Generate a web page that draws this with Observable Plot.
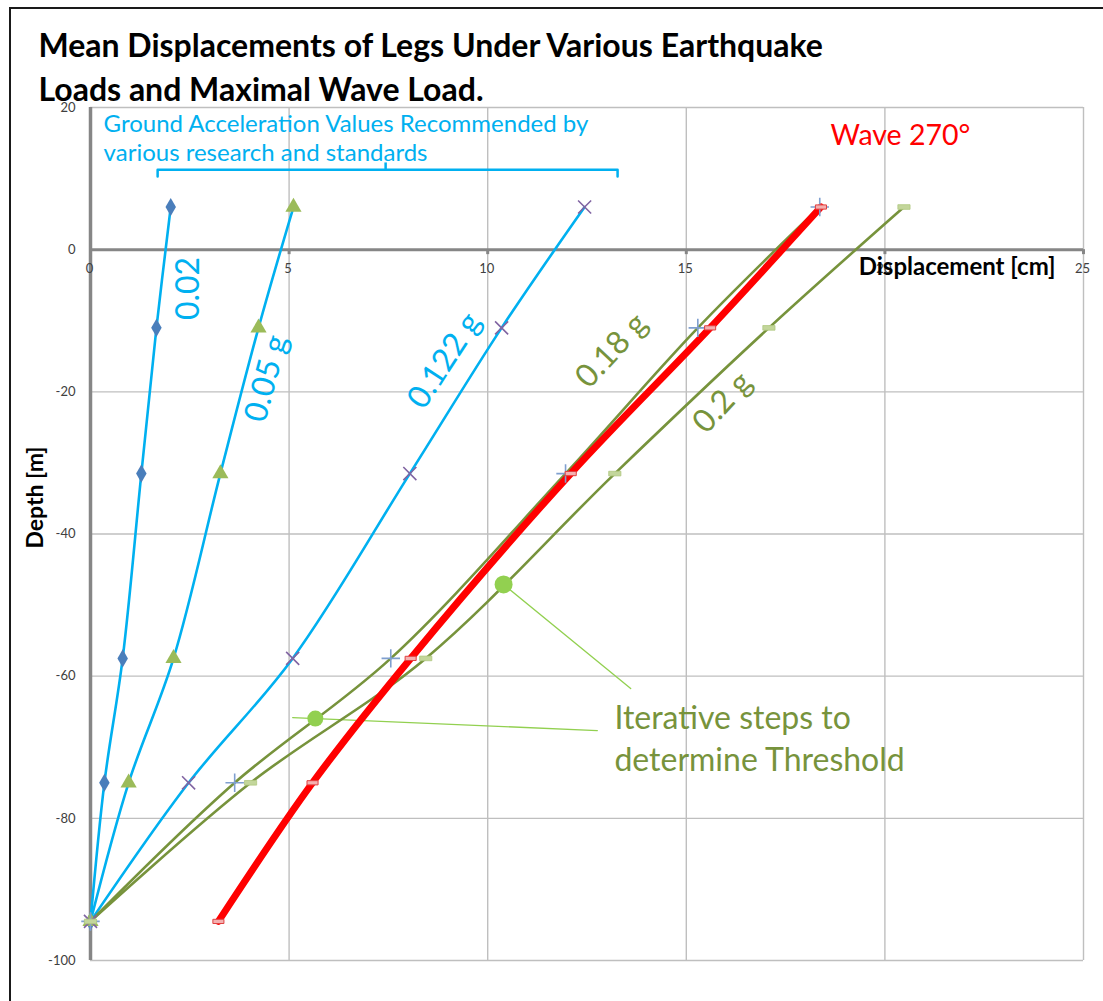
<!DOCTYPE html>
<html>
<head>
<meta charset="utf-8">
<script src="https://cdn.jsdelivr.net/npm/d3@7"></script>
<script src="https://cdn.jsdelivr.net/npm/@observablehq/plot@0.6"></script>
<style>
  html, body { margin: 0; padding: 0; background: #fff; }
  #wrap { position: relative; width: 1103px; height: 1001px; overflow: hidden; }
  #frame { position: absolute; left: 9px; top: 7px; width: 1200px; height: 1100px; border: 2.5px solid #1a1a1a; pointer-events: none; }
</style>
</head>
<body>
<div id="wrap"><div id="frame"></div></div>
<script>
// ---- data ----
const depth = [6, -11, -31.5, -57.5, -75, -94.5];
const g002  = [2.02, 1.66, 1.28, 0.81, 0.35, 0];
const g005  = [5.11, 4.23, 3.27, 2.09, 0.96, 0];
const g0122 = [12.44, 10.35, 8.04, 5.09, 2.47, 0];
const g018  = [18.36, 15.29, 11.96, 7.56, 3.63, 0];
const g02   = [20.48, 17.08, 13.2, 8.44, 4.03, 0];
const wave  = [18.39, 15.6, 12.09, 8.06, 5.59, 3.22];
const xTicks = [0, 5, 10, 15, 20, 25];
const yTicks = [20, 0, -20, -40, -60, -80, -100];
const iterSteps = [[10.40, -47.1], [5.66, -65.96]];

const rows = (vals) => vals.map((v, i) => ({x: v, y: depth[i]}));

const dashSymbol = {draw(ctx, size) { const w = Math.sqrt(size) * 1.25, h = w * 0.38; ctx.moveTo(-w/2, -h/2); ctx.lineTo(w/2, -h/2); ctx.lineTo(w/2, h/2); ctx.lineTo(-w/2, h/2); ctx.closePath(); }};
const ellipseSymbol = {draw(ctx, size) { const rx = Math.sqrt(size) * 0.6, ry = rx * 0.7; ctx.moveTo(rx, 0); ctx.ellipse ? ctx.ellipse(0, 0, rx, ry, 0, 0, 2 * Math.PI) : ctx.arc(0, 0, rx, 0, 2 * Math.PI); }};

const BLUE = "#00b0f0", OLIVE = "#77933c", RED = "#ff0000", LGREEN = "#92d050";
const F = "Lato, 'Open Sans', sans-serif";

const lineOpts = (stroke, w) => ({x: "x", y: "y", stroke, strokeWidth: w, curve: "catmull-rom"});

const txt = (s, x, y, o = {}) => Plot.text([s], {x: () => x, y: () => y, text: d => d, textAnchor: "start", fontFamily: F, ...o});

const chart = Plot.plot({
  width: 1103, height: 1001,
  marginLeft: 90, marginRight: 20, marginTop: 107, marginBottom: 41,
  x: {domain: [0, 25], axis: null},
  y: {domain: [-100, 20], axis: null},
  style: {fontFamily: F, background: "transparent", overflow: "visible"},
  marks: [
    // gridlines
    Plot.ruleX(xTicks.filter(d => d !== 0), {stroke: "#bfbfbf", strokeWidth: 1.4}),
    Plot.ruleY(yTicks.filter(d => d !== 0), {stroke: "#bfbfbf", strokeWidth: 1.4}),
    // axes
    Plot.ruleX([0], {stroke: "#868686", strokeWidth: 3.5}),
    Plot.ruleY([0], {stroke: "#868686", strokeWidth: 3}),
    Plot.ruleX(xTicks, {x: d => d, y1: 0, y2: -0.7, stroke: "#868686", strokeWidth: 3}),
    // tick labels
    Plot.text(yTicks, {x: () => 0, y: d => d, text: d => String(d), textAnchor: "end", dx: -15, fontSize: 13, fill: "#404040"}),
    Plot.text(xTicks, {x: d => d, y: () => 0, text: d => String(d), dy: 19, dx: -1, fontSize: 13, fill: "#404040"}),
    // bracket
    Plot.line([[1.69, 10.3], [1.69, 11.24], [13.27, 11.24], [13.27, 10.3]], {stroke: BLUE, strokeWidth: 2.5}),
    Plot.ruleX([7.43], {y1: 11.24, y2: 12.2, stroke: BLUE, strokeWidth: 2.5}),
    // callout lines
    Plot.line([[13.6, -61.74], [10.40, -47.1]], {stroke: LGREEN, strokeWidth: 1.3}),
    Plot.line([[5.09, -65.82], [12.76, -67.65]], {stroke: LGREEN, strokeWidth: 1.3}),
    // series lines
    Plot.line(rows(g002), lineOpts(BLUE, 2.6)),
    Plot.line(rows(g005), lineOpts(BLUE, 2.6)),
    Plot.line(rows(g0122), lineOpts(BLUE, 2.6)),
    Plot.line(rows(g018), lineOpts(OLIVE, 2.6)),
    Plot.line(rows(g02), lineOpts(OLIVE, 2.6)),
    Plot.line(rows(wave), lineOpts(RED, 7)),
    // markers
    Plot.dot(rows(g002), {x: "x", y: "y", symbol: "diamond", r: 5.5, fill: "#4a7ebb"}),
    Plot.dot(rows(g005), {x: "x", y: "y", symbol: "triangle", r: 6, fill: "#9bbb59"}),
    Plot.dot(rows(g0122), {x: "x", y: "y", symbol: "times", r: 6, stroke: "#8064a2", strokeWidth: 1.6}),
    Plot.dot(rows(g018), {x: "x", y: "y", symbol: "plus", r: 6, stroke: "#7f9fcf", strokeWidth: 1.6}),
    Plot.dot(rows(wave), {x: "x", y: "y", symbol: dashSymbol, r: 5, fill: "#f4b0b0", stroke: "#e04040", strokeWidth: 1}),
    Plot.dot(rows(g02), {x: "x", y: "y", symbol: dashSymbol, r: 5.5, fill: "#c3d69b", stroke: "#b0c880", strokeWidth: 0.8}),
    // iterative step dots
    Plot.dot([iterSteps[0]], {x: d => d[0], y: d => d[1], r: 9, fill: LGREEN}),
    Plot.dot([iterSteps[1]], {x: d => d[0], y: d => d[1], symbol: ellipseSymbol, r: 7.5, fill: LGREEN}),
    // annotations
    txt("Ground Acceleration Values Recommended by", 0.33, 17.6, {fill: BLUE, fontSize: 24}),
    txt("various research and standards", 0.33, 13.53, {fill: BLUE, fontSize: 24}),
    txt("0.02", 2.47, -5.46, {fill: BLUE, fontSize: 32, rotate: -90, textAnchor: "middle"}),
    txt("0.05 g", 4.43, -18.13, {fill: BLUE, fontSize: 32, rotate: -75, textAnchor: "middle"}),
    txt("0.122 g", 8.91, -15.6, {fill: BLUE, fontSize: 32, rotate: -57, textAnchor: "middle"}),
    txt("0.18 g", 13.12, -14.19, {fill: OLIVE, fontSize: 32, rotate: -47, textAnchor: "middle"}),
    txt("0.2 g", 15.91, -21.5, {fill: OLIVE, fontSize: 32, rotate: -47, textAnchor: "middle"}),
    txt("Wave 270°", 18.63, 16.06, {fill: RED, fontSize: 28.5}),
    txt("Displacement [cm]", 19.34, -2.51, {fill: "#000", fontSize: 24, fontWeight: "bold"}),
    txt("Depth [m]", -1.38, -34.87, {fill: "#000", fontSize: 23, fontWeight: "bold", rotate: -90, textAnchor: "middle"}),
    txt("Iterative steps to", 13.19, -65.96, {fill: OLIVE, fontSize: 32}),
    txt("determine Threshold", 13.19, -71.87, {fill: OLIVE, fontSize: 32}),
    txt("Mean Displacements of Legs Under Various Earthquake", -1.31, 28.58, {fill: "#000", fontSize: 32, fontWeight: "bold"}),
    txt("Loads and Maximal Wave Load.", -1.31, 22.4, {fill: "#000", fontSize: 32, fontWeight: "bold"})
  ]
});
chart.style.position = "absolute";
chart.style.left = "0px";
chart.style.top = "0px";
document.getElementById("wrap").prepend(chart);
</script>
</body>
</html>
